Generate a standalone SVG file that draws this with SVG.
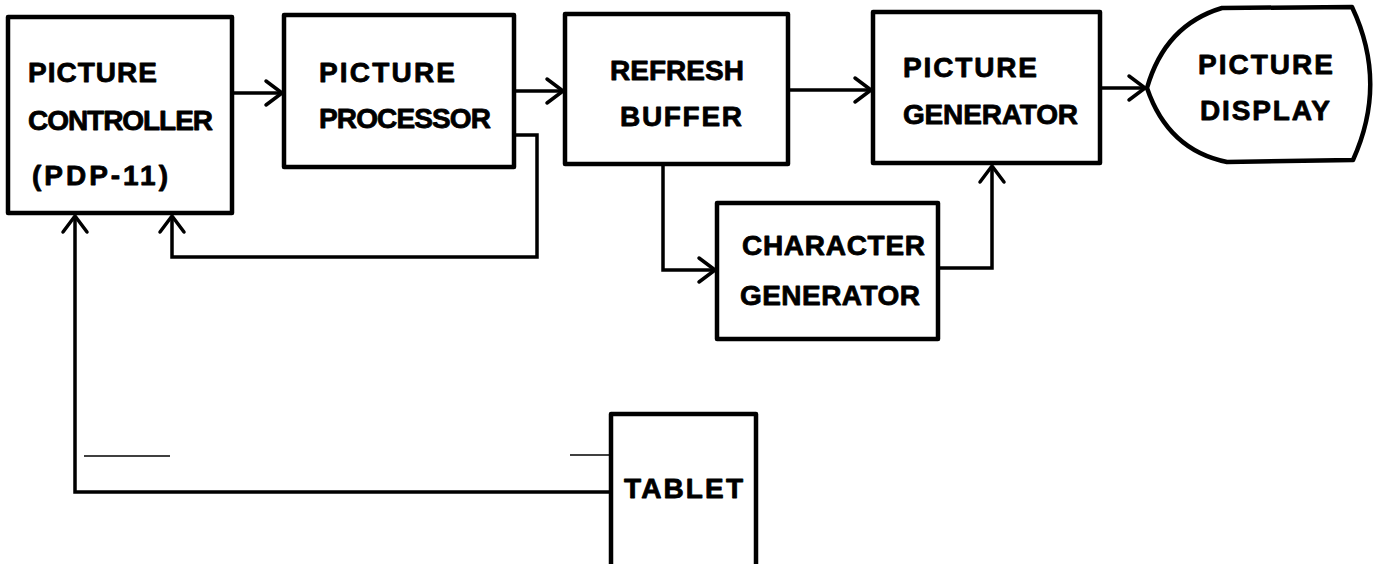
<svg xmlns="http://www.w3.org/2000/svg" width="1375" height="564" viewBox="0 0 1375 564">
<style>
.box{fill:#fff;stroke:#000;stroke-width:4.5;stroke-linejoin:round}
.lbl{font-family:"Liberation Sans",Arial,sans-serif;font-weight:bold;font-size:28px;fill:#000;stroke:#000;stroke-width:0.8;stroke-linejoin:round}
.wire{fill:none;stroke:#000;stroke-width:3.5;stroke-linejoin:miter}
.stray{fill:none;stroke:#000;stroke-width:1.5}
</style>
<defs>
<marker id="arr" markerUnits="userSpaceOnUse" markerWidth="40" markerHeight="40" refX="0" refY="0" viewBox="-20 -20 40 40" orient="auto" overflow="visible">
<path d="M -16 -12 L 0 0 L -16 12" fill="none" stroke="#000" stroke-width="3.5" stroke-linecap="round" stroke-linejoin="round"/>
</marker>
</defs>
<rect width="1375" height="564" fill="#fff"/>
<g id="connectors">
<path class="wire" d="M 232 93 L 282 93" marker-end="url(#arr)"/>
<path class="wire" d="M 514 91 L 563 91" marker-end="url(#arr)"/>
<path class="wire" d="M 788 90 L 871 90" marker-end="url(#arr)"/>
<path class="wire" d="M 1100 88 L 1145 88" marker-end="url(#arr)"/>
<path class="wire" d="M 514 135 L 537 135 L 537 257 L 172 257 L 172 216" marker-end="url(#arr)"/>
<path class="wire" d="M 663 164 L 663 270 L 715 270" marker-end="url(#arr)"/>
<path class="wire" d="M 938 268 L 992 268 L 992 166" marker-end="url(#arr)"/>
<path class="wire" d="M 611 492 L 75 492 L 75 216" marker-end="url(#arr)"/>
<path class="stray" d="M 84 456 L 170 456"/>
<path class="stray" d="M 570 455 L 611 455"/>
<path class="stray" d="M 640 455 L 700 455" stroke-dasharray="12 8" opacity="0.6"/>
</g>
<g id="picture-controller">
<rect class="box" x="8" y="17" width="224" height="196"/>
<text class="lbl" x="28" y="82" textLength="129" lengthAdjust="spacing">PICTURE</text>
<text class="lbl" x="28" y="130" textLength="185" lengthAdjust="spacing">CONTROLLER</text>
<text class="lbl" x="32" y="185" textLength="136" lengthAdjust="spacing">(PDP-11)</text>
</g>
<g id="picture-processor">
<rect class="box" x="284" y="15" width="230" height="152"/>
<text class="lbl" x="319" y="82" textLength="136" lengthAdjust="spacing">PICTURE</text>
<text class="lbl" x="319" y="128" textLength="172" lengthAdjust="spacing">PROCESSOR</text>
</g>
<g id="refresh-buffer">
<rect class="box" x="565" y="14" width="223" height="150"/>
<text class="lbl" x="610" y="80" textLength="134" lengthAdjust="spacing">REFRESH</text>
<text class="lbl" x="620" y="126" textLength="122" lengthAdjust="spacing">BUFFER</text>
</g>
<g id="picture-generator">
<rect class="box" x="873" y="12" width="227" height="151"/>
<text class="lbl" x="903" y="77" textLength="134" lengthAdjust="spacing">PICTURE</text>
<text class="lbl" x="903" y="124" textLength="175" lengthAdjust="spacing">GENERATOR</text>
</g>
<g id="picture-display">
<path class="box" d="M 1147 88 Q 1165 25 1222 8 L 1352 7 Q 1388 83 1353 160 L 1227 162 Q 1168 150 1147 88 Z"/>
<text class="lbl" x="1198" y="74" textLength="135" lengthAdjust="spacing">PICTURE</text>
<text class="lbl" x="1200" y="120" textLength="130" lengthAdjust="spacing">DISPLAY</text>
</g>
<g id="character-generator">
<rect class="box" x="717" y="203" width="221" height="136"/>
<text class="lbl" x="742" y="255" textLength="183" lengthAdjust="spacing">CHARACTER</text>
<text class="lbl" x="740" y="305" textLength="180" lengthAdjust="spacing">GENERATOR</text>
</g>
<g id="tablet">
<rect class="box" x="611" y="414" width="145" height="160"/>
<text class="lbl" x="624" y="498" textLength="119" lengthAdjust="spacing">TABLET</text>
</g>
</svg>
